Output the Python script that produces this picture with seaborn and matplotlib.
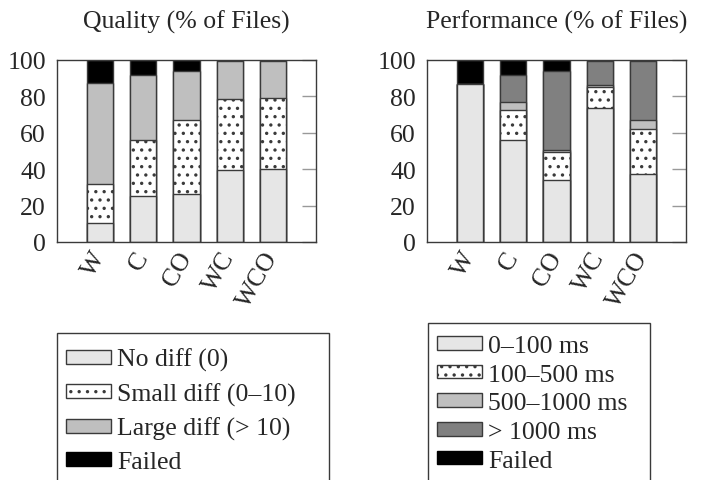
import matplotlib
matplotlib.use("Agg")
import matplotlib.pyplot as plt
from matplotlib.patches import Patch, Rectangle
import seaborn as sns
import numpy as np
import pandas as pd

categories = ["W", "C", "CO", "WC", "WCO"]

quality_labels = ["No diff (0)", "Small diff (0–10)", "Large diff (> 10)", "Failed"]
quality_no_diff = [10.4, 25.4, 26.1, 39.5, 40.2]
quality_small_diff = [21.6, 30.7, 40.8, 38.9, 39.1]
quality_large_diff = [55.6, 35.5, 27.2, 20.9, 20.2]
quality_failed = [12.4, 8.4, 5.9, 0.7, 0.5]

perf_labels = ["0–100 ms", "100–500 ms", "500–1000 ms", "> 1000 ms", "Failed"]
perf_0_100 = [86.8, 56.1, 33.8, 73.5, 37.1]
perf_100_500 = [0.0, 16.7, 15.7, 11.7, 24.9]
perf_500_1000 = [0.0, 4.0, 1.0, 0.9, 4.9]
perf_gt_1000 = [0.0, 14.8, 43.6, 13.2, 32.6]
perf_failed = [13.2, 8.4, 5.9, 0.7, 0.5]

yticks = [0, 20, 40, 60, 80, 100]

sns.set_theme(style="white")
plt.rcParams["font.family"] = ["Liberation Serif", "DejaVu Serif"]
plt.rcParams["hatch.linewidth"] = 1.2
plt.rcParams["hatch.color"] = "black"

FS = 18.5
EDGE = "#3a3a3a"
W, H = 703, 481

quality_styles = [
    dict(color="#e6e6e6", hatch=None),
    dict(color="white", hatch=".."),
    dict(color="#bfbfbf", hatch=None),
    dict(color="black", hatch=None),
]
perf_styles = [
    dict(color="#e6e6e6", hatch=None),
    dict(color="white", hatch=".."),
    dict(color="#bfbfbf", hatch=None),
    dict(color="#808080", hatch=None),
    dict(color="black", hatch=None),
]

fig = plt.figure(figsize=(7.03, 4.81), dpi=100)
ax1 = fig.add_axes([57 / W, 1 - 243 / H, 259 / W, 182 / H])
ax2 = fig.add_axes([427 / W, 1 - 243 / H, 259 / W, 182 / H])


def stacked(ax, layers, styles, title):
    cum = np.cumsum(np.array(layers), axis=0)
    # draw from top layer down so lower layers cover upper
    for i in range(len(layers) - 1, -1, -1):
        df = pd.DataFrame({"cat": categories, "val": cum[i]})
        st = styles[i]
        sns.barplot(data=df, x="cat", y="val", ax=ax, color=st["color"],
                    hatch=st["hatch"], edgecolor=EDGE, linewidth=1.0,
                    width=0.61, saturation=1, errorbar=None, zorder=2)
    ax.set_xlim(-1, 5)
    ax.set_ylim(0, 100)
    ax.set_yticks(yticks)
    ax.set_yticklabels([str(v) for v in yticks], fontsize=FS)
    ax.set_xlabel("")
    ax.set_ylabel("")
    ax.set_xticks(range(len(categories)))
    ax.set_xticklabels(categories, fontsize=FS, rotation=60, ha="right",
                       va="center", rotation_mode="anchor")
    ax.tick_params(axis="x", length=0, pad=8)
    ax.tick_params(axis="y", which="both", direction="in", left=False,
                   right=True, length=10, color="#999999", width=1.0,
                   labelleft=True, labelright=False, pad=8)
    for s in ax.spines.values():
        s.set_color(EDGE)
        s.set_linewidth(1.0)
        s.set_visible(True)
    ax.set_title(title, fontsize=FS, pad=23)


stacked(ax1, [quality_no_diff, quality_small_diff, quality_large_diff, quality_failed],
        quality_styles, "Quality (% of Files)")
stacked(ax2, [perf_0_100, perf_100_500, perf_500_1000, perf_gt_1000, perf_failed],
        perf_styles, "Performance (% of Files)")


def make_legend(styles, labels, left, top, width, entry_top, spacing):
    # frame box running past the bottom of the figure, as in the reference
    fig.add_artist(Rectangle((left / W, -0.1), width / W, 1 - top / H + 0.1,
                             transform=fig.transFigure, facecolor="white",
                             edgecolor=EDGE, linewidth=1.0, zorder=5))
    handles = [Patch(facecolor=st["color"], hatch=st["hatch"], edgecolor=EDGE,
                     linewidth=1.0) for st in styles]
    handles[-1].set_edgecolor("black")
    leg = fig.legend(handles, labels, loc="upper left",
                     bbox_to_anchor=(left / W, 1 - entry_top / H),
                     borderaxespad=0, fontsize=FS,
                     frameon=False, handlelength=1.75,
                     handleheight=0.45, handletextpad=0.25,
                     labelspacing=spacing, borderpad=0.35)
    leg.set_zorder(6)
    return leg


make_legend(quality_styles, quality_labels, 57, 334, 272, 340, 0.43)
make_legend(perf_styles, perf_labels, 428, 324, 222, 327, 0.26)

fig.savefig("out.png", dpi=100)
